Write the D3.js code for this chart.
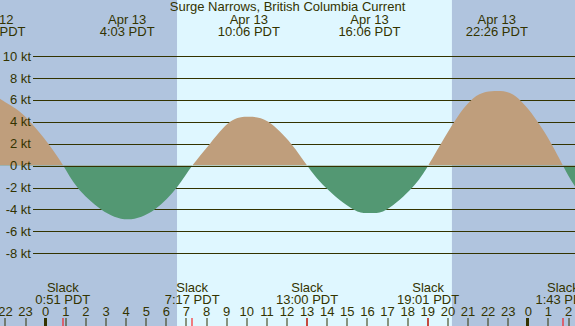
<!DOCTYPE html>
<html><head><meta charset="utf-8">
<script src="https://cdn.jsdelivr.net/npm/d3@7"></script>
<style>html,body{margin:0;padding:0;background:#b0c4de;}svg{display:block;}</style>
</head><body>
<svg id="c" width="575" height="326"></svg>
<script>
// hours relative to Apr 13 00:00 PDT, current speed in knots
const curveTimes  = [-3.2, -2.55, -2.27, -1.5, -0.78, 0.13, 0.87, 1.58, 2.76, 4.08, 5.42, 6.52, 7.29, 8.17, 9.17, 10.12, 11.07, 12.2, 13.0, 13.92, 15.3, 16.12, 16.96, 18.23, 19.02, 20.0, 21.25, 22.45, 23.5, 24.8, 25.72, 26.32, 27.0];
const curveValues = [6.0, 6.35, 6.1, 5.2, 4.0, 2.0, 0, -2.0, -4.0, -4.9, -4.0, -2.0, 0, 2.0, 4.0, 4.45, 4.0, 2.0, 0, -2.0, -4.0, -4.32, -4.0, -2.0, 0, 3.06, 6.12, 6.8, 6.12, 3.06, 0, -1.9, -3.6];
const peakTimes  = [-2.55, 4.05, 10.1, 16.1, 22.43];
const peakDates  = ["Apr 12", "Apr 13", "Apr 13", "Apr 13", "Apr 13"];
const peakLabels = ["21:27 PDT", "4:03 PDT", "10:06 PDT", "16:06 PDT", "22:26 PDT"];
const slackTimes  = [0.85, 7.283, 13.0, 19.017, 25.717];
const slackLabels = ["0:51 PDT", "7:17 PDT", "13:00 PDT", "19:01 PDT", "1:43 PDT"];
const daylight = [6.53, 20.2];
const hourTicks  = d3.range(-2, 27);
const hourLabels = hourTicks.map(h => String(((h % 24) + 24) % 24));
const ktTicks = [10, 8, 6, 4, 2, 0, -2, -4, -6, -8];
const ktLabels = ktTicks.map(v => v + " kt");
const title = "Surge Narrows, British Columbia Current";

const W = 575, H = 326;
const ink = "#333300";
const font = "'Liberation Sans', Arial, sans-serif";
const svg = d3.select("#c");
const x = d3.scaleLinear().domain([-2.2725, 26.32]).range([0, W]);
const y = d3.scaleLinear().domain([-8, 10]).range([253.3, 56]);

// background night / day
svg.append("rect").attr("x", 0).attr("y", 0).attr("width", W).attr("height", H).attr("fill", "#b0c4de");
svg.append("rect").attr("x", x(daylight[0])).attr("y", 0)
  .attr("width", x(daylight[1]) - x(daylight[0])).attr("height", H).attr("fill", "#dff7ff");

// grid lines (below fill)
const gl = v => Math.round(y(v)) + 0.5;
svg.append("g").selectAll("line").data(ktTicks.filter(v => v !== 0)).join("line")
  .attr("x1", 33).attr("x2", W).attr("y1", gl).attr("y2", gl)
  .attr("stroke", ink).attr("stroke-width", 1);

// current fill
const pts = curveTimes.map((t, i) => [t, curveValues[i]]);
const area = d3.area().x(d => x(d[0])).y0(y(0)).y1(d => y(d[1])).curve(d3.curveNatural);
const defs = svg.append("defs");
defs.append("clipPath").attr("id", "pos").append("rect").attr("x", 0).attr("y", 0).attr("width", W).attr("height", y(0));
defs.append("clipPath").attr("id", "neg").append("rect").attr("x", 0).attr("y", y(0)).attr("width", W).attr("height", H - y(0));
svg.append("path").datum(pts).attr("d", area).attr("fill", "#bf9e7c").attr("clip-path", "url(#pos)");
svg.append("path").datum(pts).attr("d", area).attr("fill", "#539873").attr("clip-path", "url(#neg)");

// zero line on top
svg.append("line").attr("x1", 33).attr("x2", W).attr("y1", gl(0)).attr("y2", gl(0)).attr("stroke", ink);

// y labels
svg.append("g").selectAll("text").data(ktTicks).join("text")
  .attr("x", 31).attr("y", v => y(v) + 4.6).attr("text-anchor", "end")
  .attr("font-family", font).attr("font-size", 13).attr("fill", ink)
  .text((v, i) => ktLabels[i]);

// title
svg.append("text").attr("x", W / 2).attr("y", 11).attr("text-anchor", "middle")
  .attr("font-family", font).attr("font-size", 13).attr("fill", ink).text(title);

// peak labels
const pk = svg.append("g").attr("font-family", font).attr("font-size", 13).attr("fill", ink).attr("text-anchor", "middle");
peakTimes.forEach((t, i) => {
  pk.append("text").attr("x", x(t)).attr("y", 24).text(peakDates[i]);
  pk.append("text").attr("x", x(t)).attr("y", 36).text(peakLabels[i]);
});

// slack labels
const sl = svg.append("g").attr("font-family", font).attr("font-size", 13).attr("fill", ink).attr("text-anchor", "middle");
slackTimes.forEach((t, i) => {
  sl.append("text").attr("x", x(t)).attr("y", 292).text("Slack");
  sl.append("text").attr("x", x(t)).attr("y", 304).text(slackLabels[i]);
});

// hour axis
const ax = svg.append("g");
ax.selectAll("text").data(hourTicks).join("text")
  .attr("x", h => x(h)).attr("y", 316).attr("text-anchor", "middle")
  .attr("font-family", font).attr("font-size", 13).attr("fill", ink)
  .text((h, i) => hourLabels[i]);
ax.selectAll("rect.tick").data(hourTicks).join("rect").attr("class", "tick")
  .attr("x", h => Math.round(x(h)) - (h % 24 === 0 ? 2 : 0.5))
  .attr("y", 318).attr("width", h => h % 24 === 0 ? 3 : 1).attr("height", 8)
  .attr("fill", ink);
ax.selectAll("rect.slk").data(slackTimes).join("rect").attr("class", "slk")
  .attr("x", t => Math.round(x(t)) - 0.5).attr("y", 318).attr("width", 1).attr("height", 8)
  .attr("fill", "#ff0000");
</script>
</body></html>
